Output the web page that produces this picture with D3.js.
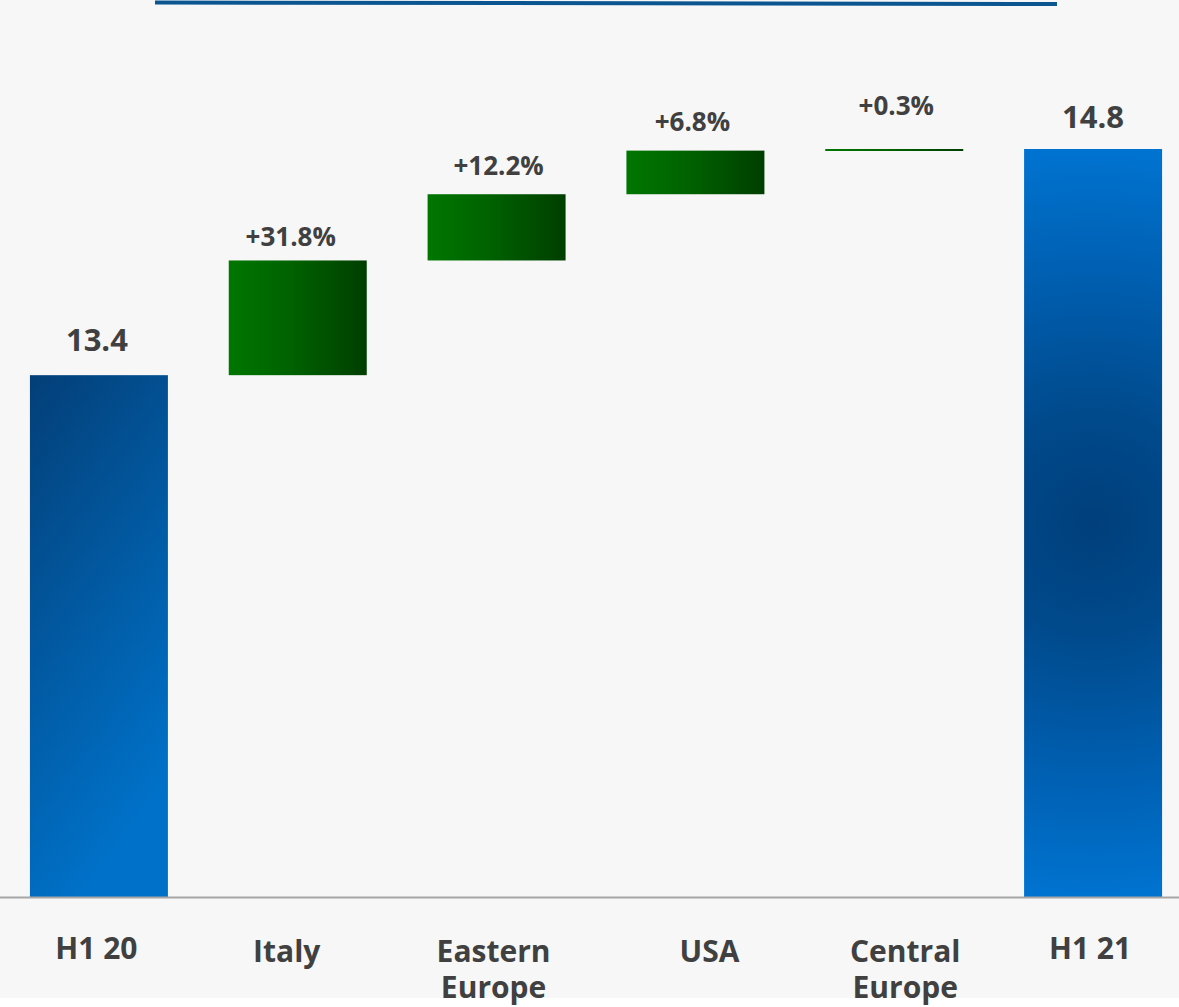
<!DOCTYPE html>
<html>
<head>
<meta charset="utf-8">
<script src="https://cdn.jsdelivr.net/npm/d3@7"></script>
<style>
  html, body { margin: 0; padding: 0; background: #f7f7f7; }
  svg { display: block; }
  text { font-family: "Open Sans", "Noto Sans", sans-serif; font-weight: 700; fill: #404040; }
</style>
</head>
<body>
<svg id="chart" width="1179" height="1007"></svg>
<script>
// Revenue bridge H1 20 -> H1 21, by region
const categories = ["H1 20", "Italy", "Eastern Europe", "USA", "Central Europe", "H1 21"];
const kinds = ["total", "delta", "delta", "delta", "delta", "total"];
const startTotal = 13.4;
const endTotal = 14.8;
const regionDeltas = [0.71, 0.41, 0.27, 0.01];
const growthLabels = ["+31.8%", "+12.2%", "+6.8%", "+0.3%"];
const axisLines = [["H1 20"], ["Italy"], ["Eastern", "Europe"], ["USA"], ["Central", "Europe"], ["H1 21"]];

// layout
const W = 1179, H = 1007;
const baseY = 897, topY = 149;
const labelGap = [24, 14, 19, 20, 34, 21];
const labelNudge = [-2, -7, 2, -3, 2, 0];
const axisNudge = [-2.5, -11, -3, 14, 11, -3];

const svg = d3.select("#chart");

const x = d3.scaleBand()
  .domain(categories)
  .range([-0.5, 1192.5])
  .paddingInner(0.306)
  .paddingOuter(0.153);

const y = d3.scaleLinear()
  .domain([10.17, endTotal])
  .range([baseY, topY]);

// build waterfall rows
const rows = [];
let run = startTotal;
rows.push({ cat: categories[0], kind: kinds[0], lo: y.domain()[0], hi: startTotal, label: startTotal.toFixed(1) });
regionDeltas.forEach((d, i) => {
  rows.push({ cat: categories[i + 1], kind: kinds[i + 1], lo: run, hi: run + d, label: growthLabels[i] });
  run += d;
});
rows.push({ cat: categories[5], kind: kinds[5], lo: y.domain()[0], hi: endTotal, label: endTotal.toFixed(1) });

// gradients
const defs = svg.append("defs");
const gStart = defs.append("linearGradient").attr("id", "gStart")
  .attr("x1", 0).attr("y1", 0).attr("x2", 0.35).attr("y2", 1);
gStart.append("stop").attr("offset", 0).attr("stop-color", "#033f78");
gStart.append("stop").attr("offset", 0.45).attr("stop-color", "#02569c");
gStart.append("stop").attr("offset", 1).attr("stop-color", "#0071c8");

const gGreen = defs.append("linearGradient").attr("id", "gGreen")
  .attr("x1", 0).attr("y1", 0).attr("x2", 1).attr("y2", 0);
gGreen.append("stop").attr("offset", 0).attr("stop-color", "#007600");
gGreen.append("stop").attr("offset", 0.45).attr("stop-color", "#006200");
gGreen.append("stop").attr("offset", 1).attr("stop-color", "#003e00");

const endBandX = x(categories[5]) + x.bandwidth() / 2;
const endMidY = (y(endTotal) + baseY) / 2;
const gEnd = defs.append("radialGradient").attr("id", "gEnd")
  .attr("gradientUnits", "userSpaceOnUse")
  .attr("cx", endBandX).attr("cy", endMidY)
  .attr("r", (baseY - y(endTotal)) / 2);
gEnd.append("stop").attr("offset", 0).attr("stop-color", "#003f7b");
gEnd.append("stop").attr("offset", 0.3).attr("stop-color", "#004a8c");
gEnd.append("stop").attr("offset", 0.65).attr("stop-color", "#005eaf");
gEnd.append("stop").attr("offset", 1).attr("stop-color", "#0073d0");

// bottom white strip
svg.append("rect").attr("x", 0).attr("y", 998).attr("width", W).attr("height", H - 998).attr("fill", "#ffffff");

// top rule
svg.append("line")
  .attr("x1", 155).attr("y1", 2.5).attr("x2", 1057).attr("y2", 4)
  .attr("stroke", "#0b5590").attr("stroke-width", 4);

// bars
svg.append("g").selectAll("rect")
  .data(rows)
  .join("rect")
  .attr("x", d => x(d.cat))
  .attr("width", x.bandwidth())
  .attr("y", d => y(d.hi))
  .attr("height", d => Math.max(2, y(d.lo) - y(d.hi)))
  .attr("fill", (d, i) => d.kind === "delta" ? "url(#gGreen)" : (i === 0 ? "url(#gStart)" : "url(#gEnd)"));

// baseline
svg.append("line")
  .attr("x1", 0).attr("x2", W).attr("y1", baseY + 0.5).attr("y2", baseY + 0.5)
  .attr("stroke", "#a6a6a6").attr("stroke-width", 2);

// value labels
svg.append("g").selectAll("text")
  .data(rows)
  .join("text")
  .attr("x", (d, i) => x(d.cat) + x.bandwidth() / 2 + labelNudge[i])
  .attr("y", (d, i) => y(d.hi) - labelGap[i])
  .attr("text-anchor", "middle")
  .style("font-size", d => d.kind === "total" ? "31px" : "26px")
  .text(d => d.label);

// category labels
const ax = svg.append("g");
categories.forEach((c, i) => {
  const cx = x(c) + x.bandwidth() / 2 + axisNudge[i];
  const t = ax.append("text")
    .attr("x", cx)
    .attr("y", i === 0 || i === 5 ? 959 : 962)
    .attr("text-anchor", "middle")
    .style("font-size", "30px");
  axisLines[i].forEach((ln, j) => {
    t.append("tspan")
      .attr("x", cx)
      .attr("dy", j === 0 ? 0 : 36)
      .text(ln);
  });
});
</script>
</body>
</html>
